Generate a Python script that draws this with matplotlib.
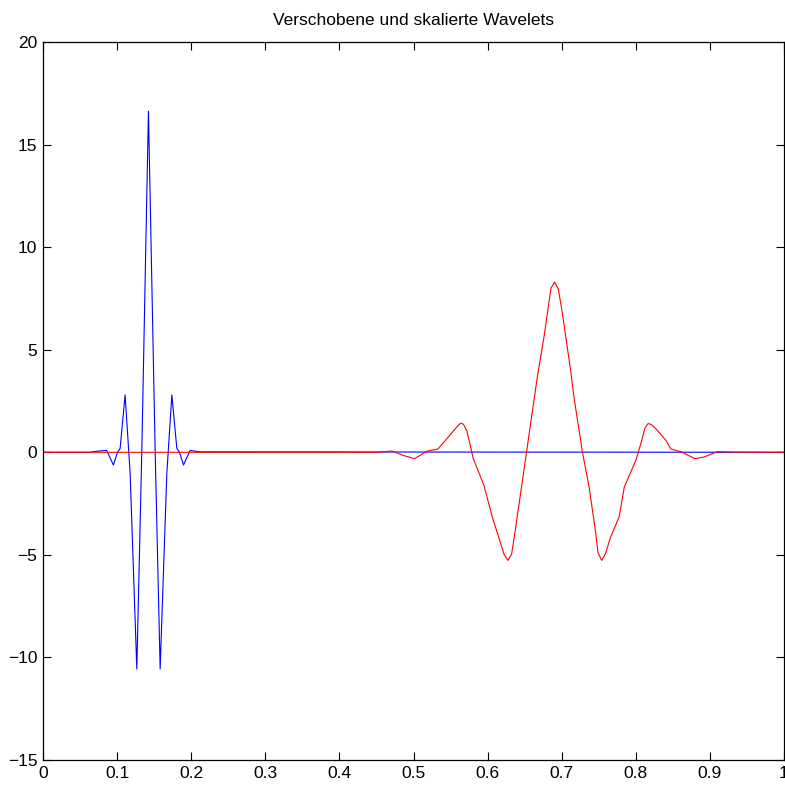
import matplotlib
matplotlib.use("Agg")
import matplotlib.pyplot as plt

title = "Verschobene und skalierte Wavelets"

blue_x = [0.0, 0.0635, 0.0748, 0.0860, 0.0950, 0.1005, 0.1041, 0.1108, 0.1176, 0.1266,
          0.1333, 0.1423, 0.1514, 0.1581, 0.1671, 0.1739, 0.1806, 0.1842, 0.1896, 0.1986,
          0.2122, 1.0]
blue_y = [0.0, 0.0, 0.06, 0.09, -0.62, 0.0, 0.19, 2.80, -1.03, -10.56,
          0.0, 16.63, 0.0, -10.56, -1.03, 2.80, 0.19, 0.0, -0.62, 0.09,
          0.02, 0.0]

red_x = [0.0, 0.45, 0.471, 0.486, 0.5015, 0.518, 0.533, 0.5435, 0.5565, 0.5615, 0.5645,
         0.5675, 0.572, 0.5807, 0.595, 0.6063, 0.6225, 0.6275, 0.6325, 0.638, 0.6525,
         0.6671, 0.6761, 0.6855, 0.6905, 0.6955, 0.701, 0.712, 0.7165, 0.728, 0.737,
         0.746, 0.749, 0.754, 0.759, 0.766, 0.7775, 0.7845, 0.80, 0.8068, 0.8125,
         0.8166, 0.8205, 0.827, 0.8405, 0.8473, 0.8608, 0.8797, 0.8923, 0.91, 0.935, 1.0]
red_y = [0.0, 0.0, 0.06, -0.15, -0.31, 0.05, 0.16, 0.6, 1.15, 1.36, 1.42,
         1.36, 1.05, -0.31, -1.61, -3.15, -5.0, -5.27, -4.95, -3.64, 0.0,
         3.67, 5.62, 8.0, 8.3, 7.95, 6.76, 4.0, 2.7, 0.0, -1.69,
         -3.96, -4.9, -5.27, -4.95, -4.13, -3.15, -1.69, -0.4, 0.42, 1.2,
         1.40, 1.36, 1.15, 0.59, 0.16, 0.03, -0.31, -0.23, 0.03, 0.01, 0.0]

x_ticks = [0, 0.1, 0.2, 0.3, 0.4, 0.5, 0.6, 0.7, 0.8, 0.9, 1.0]
x_labels = ["0", "0.1", "0.2", "0.3", "0.4", "0.5", "0.6", "0.7", "0.8", "0.9", "1"]
y_ticks = [-15, -10, -5, 0, 5, 10, 15, 20]

plt.rcParams['font.family'] = ['Liberation Sans', 'DejaVu Sans']
plt.rcParams['font.size'] = 12.5

fig = plt.figure(figsize=(7.85, 7.88), dpi=100)
ax = fig.add_axes([43 / 785, 28 / 788, 741 / 785, 718 / 788])

ax.plot(blue_x, blue_y, color=(0, 0, 1), lw=0.8)
ax.plot(red_x, red_y, color=(1, 0, 0), lw=0.8)

ax.set_xlim(0, 1)
ax.set_ylim(-15, 20)
ax.set_xticks(x_ticks)
ax.set_xticklabels(x_labels)
ax.set_yticks(y_ticks)
ax.tick_params(direction='in', top=True, right=True, length=6, width=0.8, pad=4)
for s in ax.spines.values():
    s.set_linewidth(0.9)
ax.set_title(title, fontsize=12.5, pad=12)

fig.savefig("out.png", dpi=100)
